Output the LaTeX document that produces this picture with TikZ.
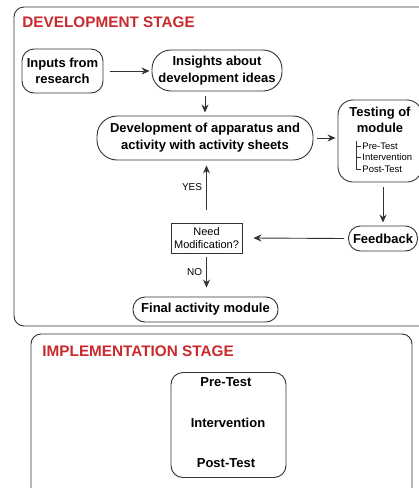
\documentclass[tikz,border=0pt]{standalone}
\usepackage{fontspec}
\setmainfont{Liberation Sans}
\usetikzlibrary{arrows.meta}
\definecolor{stagered}{RGB}{200,42,46}
\definecolor{lineclr}{RGB}{50,50,50}

\begin{document}
\begin{tikzpicture}[x=1pt, y=-1pt, >={Stealth[length=8pt,width=7pt]}, line width=0.9pt,
    every node/.style={font=\fontsize{13}{17}\selectfont\bfseries, align=center, inner sep=1pt},
    rbox/.style={draw=lineclr, rounded corners=#1},
    stagetitle/.style={anchor=west, text=stagered, font=\fontsize{15.3}{18}\selectfont\bfseries},
    small/.style={font=\fontsize{#1}{#1}\selectfont},
    conn/.style={->, draw=lineclr}]
    \useasboundingbox (0,0) rectangle (419,488);
    % frames of the two stages
    \draw[lineclr, rounded corners=10] (14,7) rectangle (445,326);
    \draw[lineclr, rounded corners=10] (31,334) rectangle (412,505);
    \node[stagetitle] (devtitle) at (21,22.5) {DEVELOPMENT STAGE};
    \node[stagetitle] (imptitle) at (41,351.5) {IMPLEMENTATION STAGE};
    % nodes of the development stage
    \node[rbox=12, minimum width=81, minimum height=44, font=\fontsize{13}{16}\selectfont\bfseries] (inputs) at (62.5,71) {Inputs from\\research};
    \node[rbox=19, minimum width=130, minimum height=41] (insights) at (217,70.5) {Insights about\\development ideas};
    \node[rbox=20, minimum width=216, minimum height=44] (devel) at (205,138) {Development of apparatus and\\activity with activity sheets};
    \node[rbox=15, minimum width=84, minimum height=82] (testing) at (380,141) {};
    \node[font=\fontsize{13}{16}\selectfont\bfseries] (testtitle) at (380,120) {Testing of\\module};
    \node[small=9.5, anchor=west] (pre) at (361,146) {Pre-Test};
    \node[small=9.5, anchor=west] (inter) at (361,157.5) {Intervention};
    \node[small=9.5, anchor=west] (post) at (361,169) {Post-Test};
    \node[rbox=12, minimum width=69, minimum height=25] (feedback) at (383,238.5) {Feedback};
    \node[draw=lineclr, minimum width=71, minimum height=30, font=\fontsize{11}{13}\selectfont] (need) at (206.5,238) {Need\\Modification?};
    \node[rbox=12, minimum width=145, minimum height=25] (final) at (205.5,309.5) {Final activity module};
    % tree of the test parts
    \draw[lineclr, line width=0.6pt] ([xshift=-5pt]pre.north west) -- ([xshift=-5pt]post.west) -- (post.west);
    \draw[lineclr, line width=0.6pt] ([xshift=-5pt]pre.west) -- (pre.west);
    \draw[lineclr, line width=0.6pt] ([xshift=-5pt]inter.west) -- (inter.west);
    % connectors
    \draw[conn] ([xshift=7pt]inputs.east) -- ([xshift=-2pt]insights.west |- inputs.east);
    \draw[conn] ([yshift=-5pt]insights.south -| devel.north) -- ([yshift=3pt]devel.north);
    \draw[conn] ([xshift=4pt]devel.east) -- ([xshift=-2pt]testing.west |- devel.east);
    \draw[conn] ([yshift=-5pt]testing.south -| feedback.north) -- ([yshift=3pt]feedback.north);
    \draw[conn] ([xshift=-4pt]feedback.west) -- ([xshift=11pt]need.east);
    \draw[conn] ([yshift=13pt]need.north) -- ([yshift=-5pt]devel.south -| need.north)
        node[midway, left, small=10, xshift=-3pt] (yes) {YES};
    \draw[conn] ([yshift=-4pt]need.south) -- ([yshift=9pt]final.north -| need.south)
        node[midway, left, small=10, xshift=-3pt] (no) {NO};
    % implementation stage
    \node[rbox=12, minimum width=115, minimum height=105] (implbox) at (228.5,425) {};
    \node (imppre) at (226,382) {Pre-Test};
    \node (impint) at (228,423) {Intervention};
    \node (imppost) at (226,463) {Post-Test};
\end{tikzpicture}
\end{document}
